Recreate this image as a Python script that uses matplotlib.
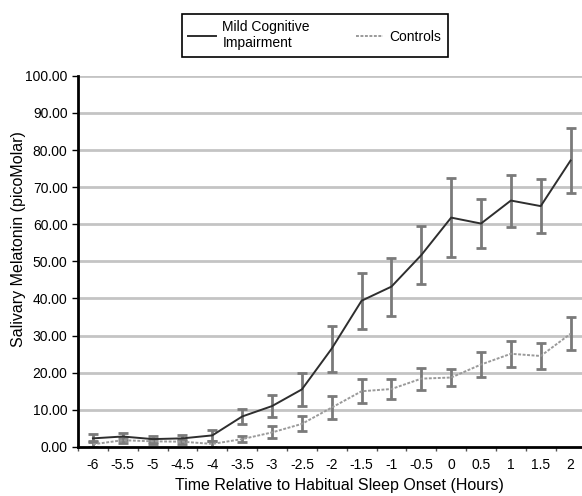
import numpy as np
import matplotlib
matplotlib.use('Agg')
import matplotlib.pyplot as plt

plt.rcParams['font.family'] = ['Liberation Sans', 'DejaVu Sans']

horas = [-6, -5.5, -5, -4.5, -4, -3.5, -3, -2.5, -2, -1.5, -1, -0.5, 0, 0.5, 1, 1.5, 2]
etiquetas_x = ['-6', '-5.5', '-5', '-4.5', '-4', '-3.5', '-3', '-2.5', '-2', '-1.5', '-1', '-0.5', '0', '0.5', '1', '1.5', '2']

# Mild Cognitive Impairment
mci = [2.3, 2.8, 2.1, 2.3, 3.1, 8.2, 11.0, 15.5, 26.5, 39.4, 43.2, 51.7, 61.8, 60.2, 66.4, 64.9, 77.2]
mci_err = [1.1, 0.9, 0.8, 0.8, 1.4, 1.9, 3.0, 4.4, 6.2, 7.6, 7.8, 7.9, 10.6, 6.5, 7.0, 7.2, 8.8]

# Controls
controles = [0.7, 1.8, 1.5, 1.4, 0.8, 2.1, 3.9, 6.2, 10.6, 15.0, 15.6, 18.4, 18.7, 22.2, 25.1, 24.5, 30.5]
controles_err = [0.8, 0.8, 0.7, 0.7, 0.7, 0.9, 1.6, 2.0, 3.1, 3.2, 2.8, 3.0, 2.3, 3.4, 3.5, 3.6, 4.5]

fig = plt.figure(figsize=(5.82, 4.96), dpi=100)
ax = fig.add_axes([0.134, 0.099, 0.872, 0.748])

for y in np.arange(10, 101, 10):
    ax.axhline(y, color='#c4c4c4', linewidth=2, zorder=0)

ax.errorbar(horas, mci, yerr=mci_err, fmt='none', ecolor='#7a7a7a', elinewidth=2,
            capsize=3.5, capthick=2, zorder=2)
ax.errorbar(horas, controles, yerr=controles_err, fmt='none', ecolor='#7a7a7a', elinewidth=2,
            capsize=3.5, capthick=2, zorder=2)
linea_mci, = ax.plot(horas, mci, color='#2e2e2e', linewidth=1.4, zorder=3)
linea_ctrl, = ax.plot(horas, controles, color='#9a9a9a', linewidth=1.4,
                      linestyle=(0, (1.5, 0.8)), zorder=3)

ax.set_xlim(-6.25, 2.25)
ax.set_ylim(0, 100)
ax.set_xticks(horas)
ax.set_xticklabels(etiquetas_x, fontsize=10)
ax.set_xticks(np.arange(-6.25, 2.3, 0.5), minor=True)
ax.tick_params(axis='x', which='major', length=0, pad=8)
ax.tick_params(axis='x', which='minor', length=3, width=1, color='#555555', direction='out')
ax.set_yticks(np.arange(0, 101, 10))
ax.set_yticklabels(['%.2f' % v for v in np.arange(0, 101, 10)], fontsize=10)
ax.tick_params(axis='y', length=4, width=1, direction='out')

ax.spines['top'].set_visible(False)
ax.spines['right'].set_visible(False)
ax.spines['left'].set_linewidth(2)
ax.spines['bottom'].set_linewidth(2)

ax.set_xlabel('Time Relative to Habitual Sleep Onset (Hours)', fontsize=11.5)
ax.set_ylabel('Salivary Melatonin (picoMolar)', fontsize=11.5)
ax.xaxis.set_label_coords(0.516, -0.085)
ax.yaxis.set_label_coords(-0.102, 0.56)

leg = fig.legend([linea_mci, linea_ctrl], ['Mild Cognitive\nImpairment', 'Controls'],
                 loc='upper left', bbox_to_anchor=(182 / 582, 1 - 14 / 496),
                 ncol=2, fancybox=False, edgecolor='black', fontsize=10,
                 handlelength=2.0, handletextpad=0.45, columnspacing=3.3,
                 borderpad=0.45, borderaxespad=0, framealpha=1)
leg.get_frame().set_linewidth(1.2)

fig.savefig('out.png', dpi=100)
